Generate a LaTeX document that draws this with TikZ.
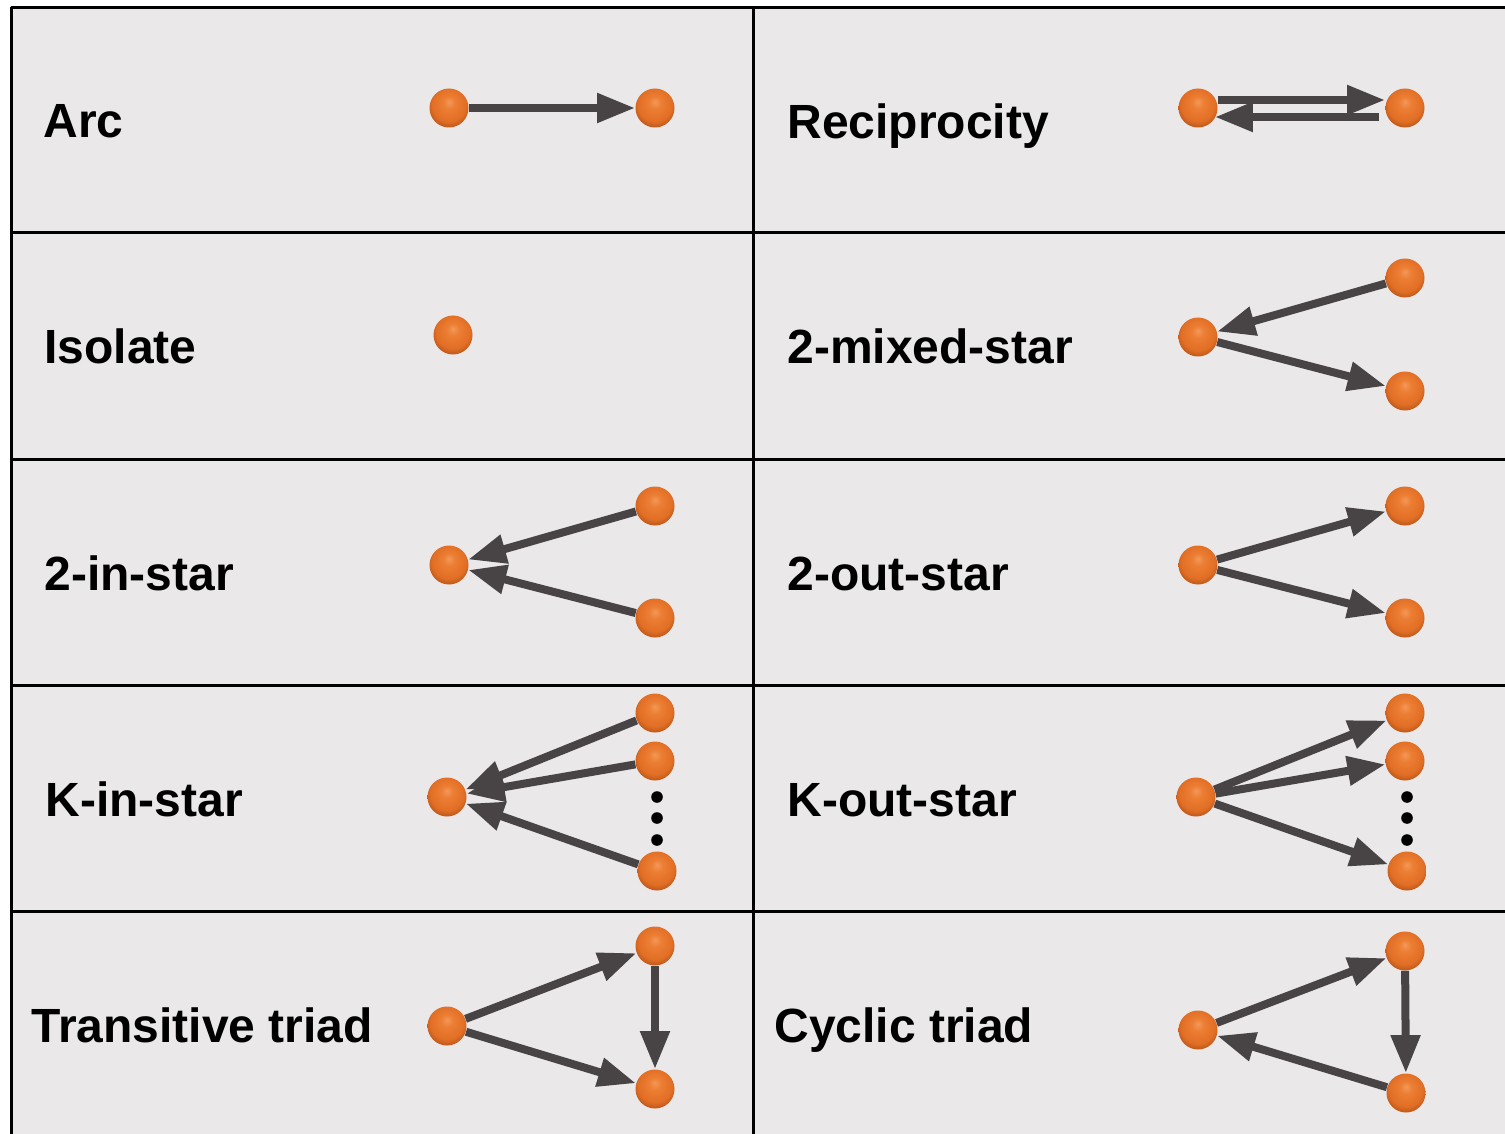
\documentclass[tikz,border=0pt]{standalone}
\usepackage{fontspec}
\setmainfont{Liberation Sans}
\usetikzlibrary{arrows.meta,calc}

\definecolor{cellbg}{RGB}{234,232,233}
\definecolor{arrowgray}{RGB}{72,67,68}
\definecolor{ballA}{RGB}{243,152,88}
\definecolor{ballB}{RGB}{236,126,52}
\definecolor{ballC}{RGB}{225,110,36}
\definecolor{ballD}{RGB}{180,82,25}

% orange ball: soft light top, darker rim
\pgfdeclareradialshading{orangeball}{\pgfqpoint{0bp}{8bp}}{%
  color(0bp)=(ballA); color(8bp)=(ballB); color(22bp)=(ballC);
  color(30bp)=(ballD); color(50bp)=(ballD)}

\tikzset{
  vertex/.style={circle, inner sep=0pt, minimum size=19.5pt, shading=orangeball},
  gridline/.style={line width=1.5pt, black},
  arc/.style={draw=arrowgray, line width=4pt,
    -{Triangle[length=19pt,width=14pt,fill=arrowgray]}},
  label/.style={anchor=base west, font=\bfseries\fontsize{24pt}{28pt}\selectfont, inner sep=0pt},
  kdot/.style={circle, fill=black, inner sep=0pt, minimum size=5.8pt}
}

\begin{document}
\begin{tikzpicture}[x=0.5pt, y=-0.5pt]
\useasboundingbox (0,0) rectangle (1505,1134);
\fill[white] (0,0) rectangle (1505,1134);
\fill[cellbg] (11.5,7.5) rectangle (1505,1134);

% table rules
\foreach \yy in {7.5,233,459,685,911}
  \draw[gridline] (10.75,\yy) -- (1505,\yy);
\foreach \xx in {11.5,753}
  \draw[gridline] (\xx,7.5) -- (\xx,1134);

% labels
\node[label] (tArc) at (43,138) {Arc};
\node[label] (tRec) at (787,139) {Reciprocity};
\node[label] (tIso) at (44,364) {Isolate};
\node[label] (tMix) at (787,364) {2-mixed-star};
\node[label] (tIn)  at (44,590) {2-in-star};
\node[label] (tOut) at (787,590) {2-out-star};
\node[label] (tKin) at (45,816) {K-in-star};
\node[label] (tKout) at (787,816) {K-out-star};
\node[label] (tTra) at (31,1042) {Transitive triad};
\node[label] (tCyc) at (774,1042) {Cyclic triad};

% Arc
\node[vertex] (a1) at (449,108) {};
\node[vertex] (a2) at (655,108) {};
\draw[arc] (a1) -- (a2);

% Reciprocity
\node[vertex] (r1) at (1198,108) {};
\node[vertex] (r2) at (1405,108) {};
\draw[arc] ([yshift=4pt]r1.east) -- ([yshift=4pt]r2.west);
\draw[arc] ([xshift=-3pt,yshift=-4.5pt]r2.west) -- ([xshift=-1.5pt,yshift=-4.5pt]r1.east);

% Isolate
\node[vertex] (i1) at (453,335) {};

% 2-mixed-star
\node[vertex] (m0) at (1198,337) {};
\node[vertex] (m1) at (1405,278) {};
\node[vertex] (m2) at (1405,391) {};
\draw[arc] (m1) -- (m0);
\draw[arc] (m0) -- (m2);

% 2-in-star
\node[vertex] (n0) at (449,565) {};
\node[vertex] (n1) at (655,506) {};
\node[vertex] (n2) at (655,618) {};
\draw[arc] (n1) -- (n0);
\draw[arc] (n2) -- (n0);

% 2-out-star
\node[vertex] (o0) at (1198,565) {};
\node[vertex] (o1) at (1405,506) {};
\node[vertex] (o2) at (1405,618) {};
\draw[arc] (o0) -- (o1);
\draw[arc] (o0) -- (o2);

% K-in-star
\node[vertex] (ki0) at (447,797) {};
\node[vertex] (ki1) at (655,713) {};
\node[vertex] (ki2) at (655,761) {};
\node[vertex] (ki3) at (657,871) {};
\node[kdot] (kid1) at (657,797) {};
\node[kdot] (kid2) at (657,818) {};
\node[kdot] (kid3) at (657,840) {};
\draw[arc] (ki1) -- (ki0);
\draw[arc] (ki2) -- (ki0);
\draw[arc] (ki3) -- (ki0);

% K-out-star
\node[vertex] (ko0) at (1196,797) {};
\node[vertex] (ko1) at (1405,713) {};
\node[vertex] (ko2) at (1405,761) {};
\node[vertex] (ko3) at (1407,871) {};
\node[kdot] (kod1) at (1407,797) {};
\node[kdot] (kod2) at (1407,818) {};
\node[kdot] (kod3) at (1407,840) {};
\draw[arc] (ko0) -- (ko1);
\draw[arc] (ko0) -- (ko2);
\draw[arc] (ko0) -- (ko3);

% Transitive triad
\node[vertex] (t0) at (447,1026) {};
\node[vertex] (t1) at (655,946) {};
\node[vertex] (t2) at (655,1089) {};
\draw[arc] (t0) -- (t1);
\draw[arc] (t0) -- (t2);
\draw[arc] (t1) -- (t2);

% Cyclic triad
\node[vertex] (c0) at (1198,1030) {};
\node[vertex] (c1) at (1405,951) {};
\node[vertex] (c2) at (1406,1093) {};
\draw[arc] (c0) -- (c1);
\draw[arc] (c1) -- (c2);
\draw[arc] (c2) -- (c0);
\end{tikzpicture}
\end{document}
